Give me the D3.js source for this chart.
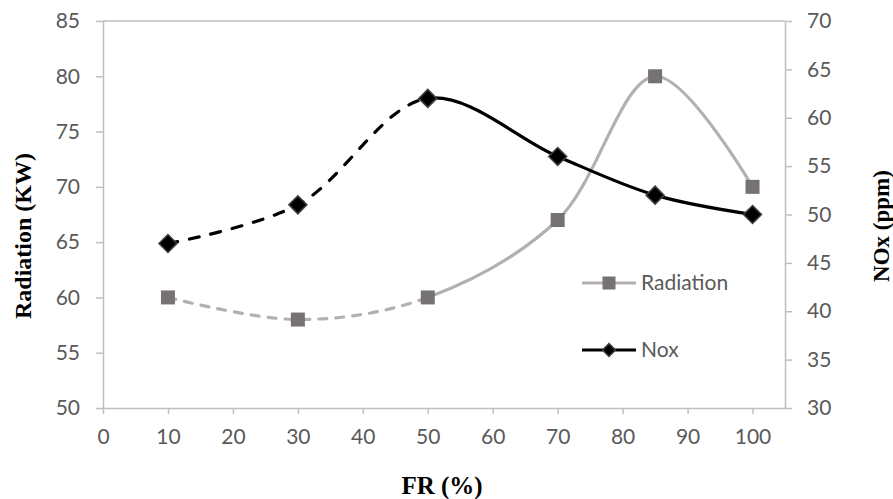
<!DOCTYPE html>
<html><head><meta charset="utf-8">
<script src="https://cdn.jsdelivr.net/npm/d3@7"></script>
<style>
html,body{margin:0;padding:0;background:#fff;}
svg{display:block;}
</style></head>
<body>
<svg id="chart" width="893" height="499"></svg>
<script>
// ---- data ----
const frValues = [10, 30, 50, 70, 85, 100];
const radiation = [60, 58, 60, 67, 80, 70];
const nox = [47, 51, 62, 56, 52, 50];
const xTicks = [0, 10, 20, 30, 40, 50, 60, 70, 80, 90, 100];
const leftTicks = [50, 55, 60, 65, 70, 75, 80, 85];
const rightTicks = [30, 35, 40, 45, 50, 55, 60, 65, 70];
const seriesNames = ["Radiation", "Nox"];
const dashEnd = 50; // dashed segment until FR = 50

const svg = d3.select("#chart");
const L = 103, R = 785, T = 21, B = 408;
const x = d3.scaleLinear().domain([0, 105]).range([L, R]);
const yL = d3.scaleLinear().domain([50, 85]).range([B, T]);
const yR = d3.scaleLinear().domain([30, 70]).range([B, T]);

const axisColor = "#BFBFBF";
const labelColor = "#595959";
const tickFont = "Lato, 'Open Sans', sans-serif";
const tickSize = "21px";

// top border
svg.append("line").attr("x1", L).attr("x2", R).attr("y1", T).attr("y2", T)
  .attr("stroke", axisColor).attr("stroke-width", 1.5);

function styleAxis(g) {
  g.select(".domain").attr("stroke", axisColor).attr("stroke-width", 1.5);
  g.selectAll(".tick line").attr("stroke", axisColor).attr("stroke-width", 1.5);
  g.selectAll(".tick text").attr("fill", labelColor).style("font-family", tickFont).style("font-size", tickSize);
}

svg.append("g").attr("transform", `translate(0,${B})`)
  .call(d3.axisBottom(x).tickValues(xTicks).tickSize(6).tickSizeOuter(0).tickPadding(15).tickFormat(d3.format("d")))
  .call(styleAxis);
svg.append("g").attr("transform", `translate(${L},0)`)
  .call(d3.axisLeft(yL).tickValues(leftTicks).tickSize(7).tickSizeOuter(0).tickPadding(16).tickFormat(d3.format("d")))
  .call(styleAxis);
svg.append("g").attr("transform", `translate(${R},0)`)
  .call(d3.axisRight(yR).tickValues(rightTicks).tickSize(7).tickSizeOuter(0).tickPadding(15).tickFormat(d3.format("d")))
  .call(styleAxis);

// clip paths
const defs = svg.append("defs");
defs.append("clipPath").attr("id", "clipDash").append("rect")
  .attr("x", 0).attr("y", 0).attr("width", x(dashEnd)).attr("height", 499);
defs.append("clipPath").attr("id", "clipSolid").append("rect")
  .attr("x", x(dashEnd)).attr("y", 0).attr("width", 893 - x(dashEnd)).attr("height", 499);

const radPts = frValues.map((f, i) => [x(f), yL(radiation[i])]);
const noxPts = frValues.map((f, i) => [x(f), yR(nox[i])]);
const line = d3.line().curve(d3.curveCatmullRom.alpha(0.5));

const radColor = "#B3B0B0", radMarker = "#777272";
const noxColor = "#000000";

function drawSeries(pts, color, dash) {
  svg.append("path").attr("d", line(pts)).attr("fill", "none")
    .attr("stroke", color).attr("stroke-width", 3.2)
    .attr("stroke-dasharray", dash).attr("stroke-linecap", "round")
    .attr("clip-path", "url(#clipDash)");
  svg.append("path").attr("d", line(pts)).attr("fill", "none")
    .attr("stroke", color).attr("stroke-width", 3.2)
    .attr("clip-path", "url(#clipSolid)");
}
drawSeries(radPts, radColor, "8,9");
drawSeries(noxPts, noxColor, "10,12");

function diamond(cx, cy, r) {
  return `M${cx},${cy - r}L${cx + r},${cy}L${cx},${cy + r}L${cx - r},${cy}Z`;
}

svg.append("g").selectAll("rect").data(radPts).join("rect")
  .attr("x", d => d[0] - 7).attr("y", d => d[1] - 7).attr("width", 14).attr("height", 14)
  .attr("fill", radMarker);
svg.append("g").selectAll("path").data(noxPts).join("path")
  .attr("d", d => diamond(d[0], d[1], 9)).attr("fill", "#000").attr("stroke", "#404040").attr("stroke-width", 1.5);

// legend
const lg = svg.append("g");
const legY = [283, 350];
lg.append("line").attr("x1", 582).attr("x2", 636).attr("y1", legY[0]).attr("y2", legY[0])
  .attr("stroke", radColor).attr("stroke-width", 3.2);
lg.append("rect").attr("x", 609 - 6.5).attr("y", legY[0] - 6.5).attr("width", 13).attr("height", 13).attr("fill", radMarker);
lg.append("line").attr("x1", 582).attr("x2", 636).attr("y1", legY[1]).attr("y2", legY[1])
  .attr("stroke", noxColor).attr("stroke-width", 3.2);
lg.append("path").attr("d", diamond(609, legY[1], 6.5)).attr("fill", "#000").attr("stroke", "#404040").attr("stroke-width", 1.5);
seriesNames.forEach((n, i) => {
  lg.append("text").attr("x", 641).attr("y", legY[i]).attr("dy", "0.35em")
    .attr("fill", labelColor).style("font-family", tickFont).style("font-size", tickSize).text(n);
});

// axis titles
const titleFont = "'Liberation Serif', 'Times New Roman', serif";
svg.append("text").attr("transform", "translate(31,236) rotate(-90)").attr("text-anchor", "middle")
  .style("font-family", titleFont).style("font-weight", "bold").style("font-size", "24px").attr("fill", "#000")
  .text("Radiation (KW)");
svg.append("text").attr("transform", "translate(889,226) rotate(-90)").attr("text-anchor", "middle")
  .style("font-family", titleFont).style("font-weight", "bold").style("font-size", "23px").attr("fill", "#000")
  .text("NOx (ppm)");
svg.append("text").attr("x", 442).attr("y", 494).attr("text-anchor", "middle")
  .style("font-family", titleFont).style("font-weight", "bold").style("font-size", "25px").attr("fill", "#000")
  .text("FR (%)");
</script>
</body></html>
